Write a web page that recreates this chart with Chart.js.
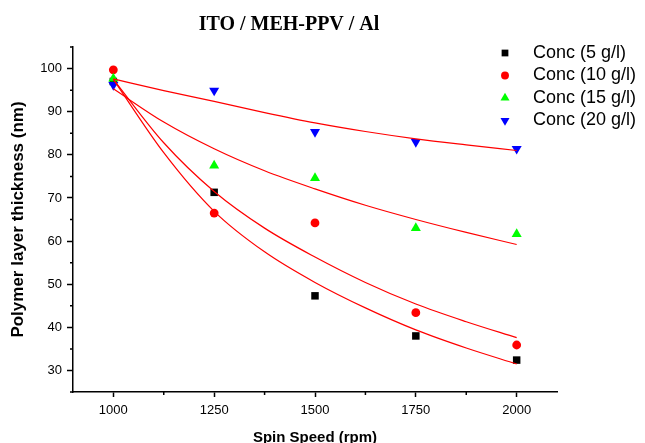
<!DOCTYPE html>
<html>
<head>
<meta charset="utf-8">
<script src="https://cdn.jsdelivr.net/npm/chart.js@4/dist/chart.umd.min.js"></script>
<style>
  html, body { margin: 0; padding: 0; background: #fff; }
</style>
</head>
<body>
<canvas id="chart" width="645" height="443"></canvas>
<script>
const chartTitle = 'ITO / MEH-PPV / Al';
const speeds = [1000, 1250, 1500, 1750, 2000];
const conc5 = [97.0, 71.3, 47.3, 38.0, 32.4];
const conc10 = [99.7, 66.5, 64.2, 43.4, 35.9];
const conc15 = [97.7, 77.5, 74.6, 63.0, 61.6];
const conc20 = [96.2, 94.9, 85.3, 83.0, 81.4];

// red fit curves
const fitSpeeds = [1000, 1125, 1250, 1375, 1500, 1625, 1750, 1875, 2000];
const fit5 = [97.5, 80.5, 66.9, 57.5, 50.4, 44.5, 39.4, 35.2, 31.5];
const fit10 = [97.5, 82.8, 71.5, 63.0, 56.3, 50.4, 45.4, 41.3, 37.6];
const fit15 = [95.3, 87.6, 81.4, 76.3, 72.1, 68.3, 65.0, 62.0, 59.2];
const fit20 = [97.6, 94.9, 92.4, 89.8, 87.4, 85.4, 83.7, 82.3, 81.0];

const xTicks = [1000, 1250, 1500, 1750, 2000];
const xMinor = [1125, 1375, 1625, 1875];
const yTicks = [30, 40, 50, 60, 70, 80, 90, 100];
const yMinor = [25, 35, 45, 55, 65, 75, 85, 95, 105];

const sans = 'Arial, "Liberation Sans", sans-serif';
Chart.defaults.font.family = sans;
Chart.defaults.color = '#000';

const pts = (xs, ys) => xs.map((x, i) => ({ x, y: ys[i] }));

function markerSet(label, ys, color, style, radius, rotation, order) {
  return {
    label, data: pts(speeds, ys), order,
    backgroundColor: color, borderColor: color, borderWidth: 0,
    pointStyle: style, pointRadius: radius, pointHoverRadius: radius,
    pointRotation: rotation, showLine: false
  };
}

function fitSet(ys) {
  return {
    label: 'fit', data: pts(fitSpeeds, ys), order: 0, isFit: true,
    borderColor: '#ff0000', borderWidth: 1.2, pointRadius: 0,
    showLine: true, fill: false, cubicInterpolationMode: 'monotone'
  };
}

const extras = {
  id: 'extras',
  afterDraw(chart) {
    const { ctx, scales: { x, y } } = chart;
    ctx.save();
    // minor ticks
    ctx.strokeStyle = '#000';
    ctx.lineWidth = 1.5;
    ctx.beginPath();
    xMinor.forEach(v => {
      const px = x.getPixelForValue(v);
      ctx.moveTo(px, x.top); ctx.lineTo(px, x.top + 3);
    });
    yMinor.forEach(v => {
      const py = y.getPixelForValue(v);
      ctx.moveTo(y.right, py); ctx.lineTo(y.right - 3, py);
    });
    ctx.stroke();

    // title
    ctx.fillStyle = '#000';
    ctx.font = 'bold 20px "Liberation Serif", "Times New Roman", serif';
    ctx.textAlign = 'center';
    ctx.textBaseline = 'middle';
    ctx.fillText(chartTitle, 289, 25);

    // legend
    ctx.font = '18px ' + sans;
    ctx.textAlign = 'left';
    chart.data.datasets.filter(d => !d.isFit).forEach((d, i) => {
      const ly = 53 + i * 22.5;
      ctx.fillStyle = d.backgroundColor;
      Chart.helpers.drawPoint(ctx, {
        pointStyle: d.pointStyle, radius: d.pointRadius * 0.9,
        rotation: d.pointRotation, borderWidth: 0
      }, 505, ly);
      ctx.fillStyle = '#000';
      ctx.fillText(d.label, 533, ly);
    });
    ctx.restore();
  }
};

new Chart(document.getElementById('chart'), {
  type: 'scatter',
  data: {
    datasets: [
      markerSet('Conc (5 g/l)', conc5, '#000000', 'rect', 5.3, 0, 4),
      markerSet('Conc (10 g/l)', conc10, '#ff0000', 'circle', 4.4, 0, 3),
      markerSet('Conc (15 g/l)', conc15, '#00ff00', 'triangle', 5.8, 0, 2),
      markerSet('Conc (20 g/l)', conc20, '#0000ff', 'triangle', 5.8, 180, 1),
      fitSet(fit5), fitSet(fit10), fitSet(fit15), fitSet(fit20)
    ]
  },
  options: {
    responsive: false,
    animation: false,
    layout: { padding: { left: 0, right: 88, top: 47, bottom: 0 } },
    plugins: { legend: { display: false }, tooltip: { enabled: false }, title: { display: false } },
    scales: {
      x: {
        type: 'linear', min: 900, max: 2100,
        afterBuildTicks: s => { s.ticks = xTicks.map(v => ({ value: v })); },
        afterFit: s => { s.height = 51; },
        border: { color: '#000', width: 1.5 },
        grid: { drawOnChartArea: false, tickLength: 5, tickColor: '#000', tickWidth: 1.5 },
        ticks: { color: '#000', font: { size: 13 }, padding: 6, maxRotation: 0, callback: v => String(v) },
        title: {
          display: true, text: 'Spin Speed (rpm)', color: '#000',
          font: { size: 15, weight: 'bold' }, padding: { top: 0, bottom: -4 }
        }
      },
      y: {
        type: 'linear', min: 25, max: 105,
        afterBuildTicks: s => { s.ticks = yTicks.map(v => ({ value: v })); },
        afterFit: s => { s.width = 73; },
        border: { color: '#000', width: 1.5 },
        grid: { drawOnChartArea: false, tickLength: 6, tickColor: '#000', tickWidth: 1.5 },
        ticks: { color: '#000', font: { size: 13 }, padding: 5, callback: v => String(v) },
        title: {
          display: true, text: 'Polymer layer thickness (nm)', color: '#000',
          font: { size: 17, weight: 'bold' }, padding: { top: 8, bottom: 0 }
        }
      }
    }
  },
  plugins: [extras]
});
</script>
</body>
</html>
